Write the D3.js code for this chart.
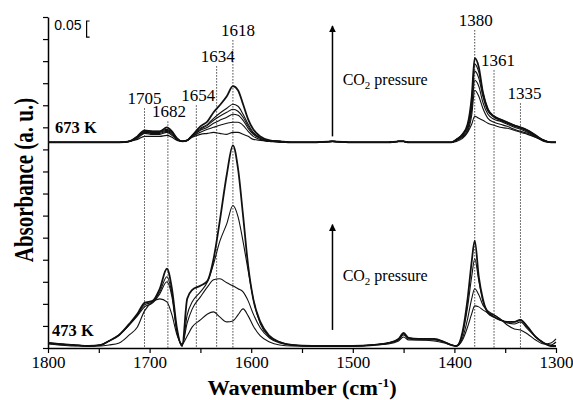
<!DOCTYPE html>
<html>
<head>
<meta charset="utf-8">
<script src="https://cdn.jsdelivr.net/npm/d3@7"></script>
<style>
  body { margin: 0; background: #fff; }
  svg { display: block; }
</style>
</head>
<body>
<svg id="chart" width="573" height="400"></svg>
<script>
// wavenumber grid (cm-1) shared by all spectra
const wavenumbers = [
  1800, 1790, 1775, 1760, 1748, 1740, 1730, 1720, 1712, 1705,
  1697, 1690, 1683, 1678, 1673, 1668, 1663, 1658, 1650, 1643,
  1637, 1631, 1624, 1618, 1613, 1608, 1603, 1598, 1591, 1582,
  1572, 1560, 1540, 1520, 1500, 1480, 1465, 1455, 1450, 1445,
  1435, 1420, 1410, 1403, 1398, 1392, 1387, 1383, 1380, 1376,
  1372, 1367, 1361, 1355, 1348, 1341, 1335, 1328, 1320, 1312,
  1305, 1300
];

// 673 K spectra (a.u., above their own baseline), highest CO2 pressure first
const s673a = [
  0, 0, 0, 0, 0, 0, 0, 0.001, 0.006, 0.012,
  0.011, 0.011, 0.015, 0.011, 0.004, 0.001, 0.002, 0.007, 0.016, 0.021,
  0.030, 0.037, 0.046, 0.056, 0.052, 0.038, 0.023, 0.013, 0.006, 0.002,
  0.001, 0, 0, 0.001, 0, 0, 0, 0.001, 0.001, 0,
  0, 0, 0, 0, 0.003, 0.008, 0.018, 0.045, 0.084, 0.075,
  0.050, 0.033, 0.026, 0.023, 0.020, 0.017, 0.015, 0.012, 0.007, 0.002,
  0, 0
];
const s673b = [
  0, 0, 0, 0, 0, 0, 0, 0.001, 0.006, 0.011,
  0.011, 0.011, 0.013, 0.010, 0.004, 0.001, 0.002, 0.007, 0.014, 0.018,
  0.024, 0.029, 0.034, 0.038, 0.036, 0.028, 0.018, 0.010, 0.005, 0.002,
  0.001, 0, 0, 0.001, 0, 0, 0, 0.001, 0.001, 0,
  0, 0, 0, 0, 0.003, 0.008, 0.017, 0.040, 0.078, 0.070,
  0.050, 0.033, 0.026, 0.023, 0.020, 0.017, 0.015, 0.012, 0.007, 0.002,
  0, 0
];
const s673c = [
  0, 0, 0, 0, 0, 0, 0, 0.001, 0.005, 0.010,
  0.010, 0.010, 0.012, 0.009, 0.003, 0.001, 0.002, 0.007, 0.013, 0.017,
  0.022, 0.026, 0.030, 0.033, 0.031, 0.025, 0.016, 0.009, 0.004, 0.001,
  0.001, 0, 0, 0.001, 0, 0, 0, 0.001, 0.001, 0,
  0, 0, 0, 0, 0.003, 0.007, 0.015, 0.036, 0.071, 0.064,
  0.046, 0.031, 0.025, 0.022, 0.019, 0.016, 0.014, 0.011, 0.006, 0.002,
  0, 0
];
const s673d = [
  0, 0, 0, 0, 0, 0, 0, 0.001, 0.005, 0.010,
  0.009, 0.009, 0.011, 0.008, 0.003, 0.001, 0.002, 0.006, 0.012, 0.015,
  0.019, 0.022, 0.025, 0.028, 0.027, 0.022, 0.014, 0.008, 0.004, 0.001,
  0.001, 0, 0, 0.001, 0, 0, 0, 0.001, 0.001, 0,
  0, 0, 0, 0, 0.002, 0.006, 0.013, 0.032, 0.062, 0.056,
  0.040, 0.028, 0.023, 0.021, 0.018, 0.015, 0.013, 0.010, 0.006, 0.002,
  0, 0
];
const s673e = [
  0, 0, 0, 0, 0, 0, 0, 0.001, 0.004, 0.009,
  0.008, 0.008, 0.010, 0.007, 0.003, 0.001, 0.002, 0.006, 0.010, 0.013,
  0.015, 0.017, 0.019, 0.020, 0.020, 0.017, 0.011, 0.006, 0.003, 0.001,
  0.001, 0, 0, 0.001, 0, 0, 0, 0.001, 0.001, 0,
  0, 0, 0, 0, 0.002, 0.005, 0.011, 0.027, 0.052, 0.046,
  0.034, 0.024, 0.020, 0.018, 0.016, 0.013, 0.011, 0.009, 0.005, 0.002,
  0, 0
];
const s673f = [
  0, 0, 0, 0, 0, 0, 0, 0.001, 0.003, 0.006,
  0.006, 0.006, 0.007, 0.005, 0.002, 0.001, 0.002, 0.005, 0.008, 0.009,
  0.010, 0.009, 0.008, 0.010, 0.010, 0.008, 0.006, 0.003, 0.002, 0.001,
  0, 0, 0, 0.001, 0, 0, 0, 0.001, 0.001, 0,
  0, 0, 0, 0, 0.001, 0.004, 0.010, 0.018, 0.026, 0.024,
  0.022, 0.019, 0.017, 0.015, 0.014, 0.012, 0.010, 0.008, 0.005, 0.001,
  0, 0
];

// 473 K spectra
const s473a = [
  0.004, 0.003, 0.002, 0.001, 0.002, 0.006, 0.012, 0.023, 0.033, 0.044,
  0.046, 0.058, 0.078, 0.058, 0.018, 0.001, 0.048, 0.057, 0.061, 0.066,
  0.088, 0.125, 0.172, 0.201, 0.178, 0.131, 0.081, 0.048, 0.025, 0.011,
  0.005, 0.002, 0.001, 0.001, 0.001, 0.002, 0.004, 0.008, 0.014, 0.009,
  0.008, 0.008, 0.005, 0.002, 0.001, 0.015, 0.048, 0.085, 0.106, 0.070,
  0.048, 0.034, 0.030, 0.027, 0.025, 0.025, 0.027, 0.020, 0.010, 0.004,
  0.001, 0.001
];
const s473b = [
  0.004, 0.003, 0.002, 0.001, 0.002, 0.006, 0.012, 0.022, 0.032, 0.042,
  0.045, 0.055, 0.070, 0.053, 0.016, 0.001, 0.032, 0.045, 0.055, 0.065,
  0.083, 0.105, 0.123, 0.141, 0.130, 0.105, 0.076, 0.048, 0.023, 0.010,
  0.005, 0.002, 0.001, 0.001, 0.001, 0.002, 0.004, 0.008, 0.013, 0.009,
  0.008, 0.008, 0.005, 0.002, 0.001, 0.013, 0.040, 0.070, 0.088, 0.066,
  0.046, 0.035, 0.030, 0.027, 0.025, 0.025, 0.027, 0.020, 0.010, 0.004,
  0.001, 0.001
];
const s473c = [
  0.004, 0.003, 0.002, 0.001, 0.002, 0.006, 0.012, 0.022, 0.031, 0.040,
  0.044, 0.053, 0.065, 0.050, 0.014, 0.002, 0.024, 0.038, 0.050, 0.060,
  0.067, 0.068, 0.064, 0.061, 0.058, 0.055, 0.046, 0.033, 0.019, 0.009,
  0.004, 0.002, 0.001, 0.001, 0.001, 0.002, 0.004, 0.007, 0.012, 0.008,
  0.007, 0.007, 0.005, 0.002, 0.001, 0.009, 0.028, 0.048, 0.058, 0.052,
  0.042, 0.036, 0.032, 0.028, 0.024, 0.023, 0.025, 0.018, 0.010, 0.004,
  0.002, 0.005
];
const s473d = [
  0.003, 0.002, 0.001, 0.001, 0.001, 0.002, 0.004, 0.012, 0.020, 0.036,
  0.045, 0.048, 0.045, 0.032, 0.012, 0.003, 0.011, 0.020, 0.027, 0.033,
  0.035, 0.030, 0.025, 0.026, 0.032, 0.038, 0.031, 0.021, 0.011, 0.005,
  0.002, 0.001, 0.001, 0.001, 0.001, 0.002, 0.003, 0.006, 0.010, 0.007,
  0.007, 0.006, 0.004, 0.002, 0.001, 0.007, 0.020, 0.033, 0.041, 0.040,
  0.037, 0.034, 0.032, 0.028, 0.022, 0.018, 0.017, 0.013, 0.007, 0.003,
  0.004, 0.008
];

const spectra673 = [s673a, s673b, s673c, s673d, s673e, s673f];
const spectra473 = [s473a, s473b, s473c, s473d];
const offset673 = 0.205;
const offset473 = 0.001;

const xTicks = [1800, 1700, 1600, 1500, 1400, 1300];
const peaks = [1705, 1682, 1654, 1634, 1618, 1380, 1361, 1335];
const peakLabelLevel = [0.243, 0.230, 0.246, 0.285, 0.311, 0.321, 0.281, 0.248];

const serif = '"Liberation Serif", "Times New Roman", serif';
const svg = d3.select('#chart');

const x = d3.scaleLinear().domain([1800, 1300]).range([48, 556]);
const y = d3.scaleLinear().domain([0, 0.33]).range([348, 17]);

// axes
const xAxis = svg.append('g')
  .attr('transform', `translate(0,${y(0)})`)
  .call(d3.axisBottom(x)
    .tickValues(d3.range(1800, 1299, -50))
    .tickSize(5)
    .tickSizeOuter(0)
    .tickFormat(d => xTicks.includes(d) ? d : ''));
xAxis.select('.domain').attr('stroke', '#000').attr('stroke-width', 1.5);
xAxis.selectAll('.tick line').attr('stroke', '#000').attr('stroke-width', 1.2);
xAxis.selectAll('text')
  .attr('font-family', serif)
  .attr('font-size', 17)
  .attr('fill', '#000');

const yAxis = svg.append('g')
  .attr('transform', `translate(${x(1800)},0)`)
  .call(d3.axisLeft(y)
    .tickValues(d3.range(0, 0.331, 0.022))
    .tickSize(5)
    .tickSizeOuter(0)
    .tickFormat(''));
yAxis.select('.domain').attr('stroke', '#000').attr('stroke-width', 1.5);
yAxis.selectAll('.tick line').attr('stroke', '#000').attr('stroke-width', 1.2);

// dotted peak markers
svg.append('g')
  .selectAll('line')
  .data(peaks)
  .join('line')
  .attr('x1', d => x(d))
  .attr('x2', d => x(d))
  .attr('y1', (d, i) => y(peakLabelLevel[i] - 0.004))
  .attr('y2', y(0))
  .attr('stroke', '#444')
  .attr('stroke-width', 1)
  .attr('stroke-dasharray', '1.5,1.5');

// spectra
const line = offset => d3.line()
  .x((d, i) => x(wavenumbers[i]))
  .y(d => y(offset + d))
  .curve(d3.curveMonotoneX);

svg.append('g')
  .selectAll('path')
  .data(spectra673)
  .join('path')
  .attr('d', d => line(offset673)(d))
  .attr('fill', 'none')
  .attr('stroke', '#111')
  .attr('stroke-width', (d, i) => i === 0 ? 1.8 : 1.1);

svg.append('g')
  .selectAll('path')
  .data(spectra473)
  .join('path')
  .attr('d', d => line(offset473)(d))
  .attr('fill', 'none')
  .attr('stroke', '#111')
  .attr('stroke-width', (d, i) => i === 0 ? 1.8 : 1.1);

// peak labels
const labelDx = [0, 1, 2, 1, 5, 1, 4, 4];
svg.append('g')
  .selectAll('text')
  .data(peaks)
  .join('text')
  .attr('x', (d, i) => x(d) + labelDx[i])
  .attr('y', (d, i) => y(peakLabelLevel[i]))
  .attr('text-anchor', 'middle')
  .attr('font-family', serif)
  .attr('font-size', 17)
  .text(d => d);

// temperature labels
svg.append('text')
  .attr('x', x(1793)).attr('y', y(offset673 + 0.009))
  .attr('font-family', serif).attr('font-size', 16.5).attr('font-weight', 'bold')
  .text('673 K');
svg.append('text')
  .attr('x', x(1796)).attr('y', y(offset473 + 0.011))
  .attr('font-family', serif).attr('font-size', 16.5).attr('font-weight', 'bold')
  .text('473 K');

// CO2 pressure arrows
svg.append('defs').append('marker')
  .attr('id', 'head')
  .attr('viewBox', '0 0 10 10')
  .attr('refX', 9).attr('refY', 5)
  .attr('markerWidth', 7).attr('markerHeight', 7)
  .attr('markerUnits', 'userSpaceOnUse')
  .attr('orient', 'auto')
  .append('path')
  .attr('d', 'M0,0L10,5L0,10Z')
  .attr('fill', '#000');

const arrows = [[offset673 + 0.006, offset673 + 0.116], [0.018, 0.123]];
const arrowText = [offset673 + 0.057, 0.067];
arrows.forEach((a, i) => {
  svg.append('line')
    .attr('x1', x(1520)).attr('x2', x(1520))
    .attr('y1', y(a[0])).attr('y2', y(a[1]))
    .attr('stroke', '#000').attr('stroke-width', 1.5)
    .attr('marker-end', 'url(#head)');
  const t = svg.append('text')
    .attr('x', x(1510)).attr('y', y(arrowText[i]))
    .attr('font-family', serif).attr('font-size', 16);
  t.append('tspan').text('CO');
  t.append('tspan').attr('font-size', 11).attr('dy', 4).text('2');
  t.append('tspan').attr('dy', -4).text(' pressure');
});

// 0.05 scale bar
svg.append('path')
  .attr('d', `M${x(1762) + 3},${y(0.326)}H${x(1762)}V${y(0.310)}H${x(1762) + 3}`)
  .attr('fill', 'none').attr('stroke', '#000').attr('stroke-width', 1.2);
svg.append('text')
  .attr('x', x(1767)).attr('y', y(0.317))
  .attr('text-anchor', 'end')
  .attr('font-family', '"Liberation Sans", Arial, sans-serif')
  .attr('font-size', 14)
  .text('0.05');

// axis titles
const xt = svg.append('text')
  .attr('transform', 'translate(302,395) scale(1.12,1)')
  .attr('text-anchor', 'middle')
  .attr('font-family', serif).attr('font-size', 20).attr('font-weight', 'bold');
xt.append('tspan').text('Wavenumber (cm');
xt.append('tspan').attr('font-size', 12).attr('dy', -8).text('-1');
xt.append('tspan').attr('dy', 8).text(')');

svg.append('text')
  .attr('transform', 'translate(33,180) rotate(-90) scale(1,1.25)')
  .attr('text-anchor', 'middle')
  .attr('font-family', serif).attr('font-size', 21).attr('font-weight', 'bold')
  .text('Absorbance (a. u.)');
</script>
</body>
</html>
